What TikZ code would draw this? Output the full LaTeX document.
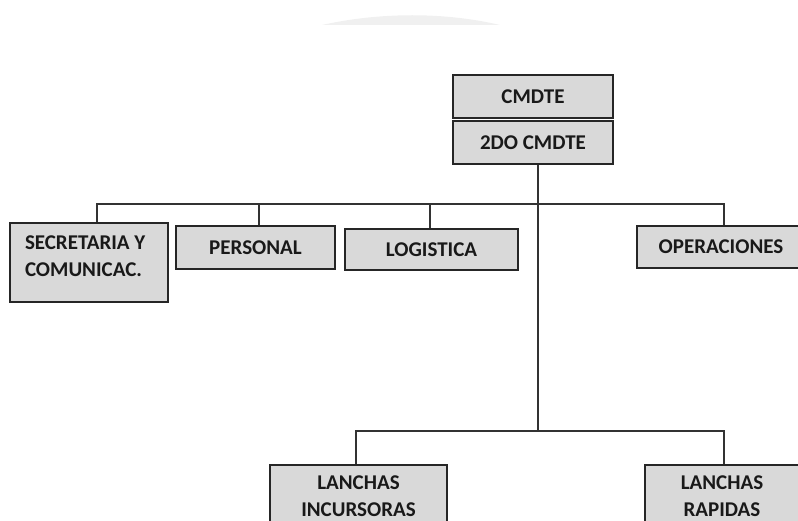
\documentclass[tikz,border=0pt]{standalone}
\usepackage{fontspec}
\setmainfont{Carlito}
\usepackage{xcolor}
\definecolor{cajagris}{HTML}{D9D9D9}
\definecolor{linea}{HTML}{333333}
\tikzset{
    caja/.style={draw=black!85, line width=1.8pt, fill=cajagris, inner sep=0pt,
        font=\bfseries\fontsize{21}{27}\selectfont, text=black!90, align=center},
    rama/.style={draw=linea, line width=1.6pt}
}
\begin{document}
\begin{tikzpicture}[x=1pt,y=-1pt]
        \useasboundingbox (0,0) rectangle (798,521);
        \fill[gray!12] (322,25) .. controls (380,12) and (445,12) .. (500,25) -- cycle;

        \node[caja, minimum width=160pt, minimum height=43pt] (cmdte) at (533,96.5) {CMDTE};
        \node[caja, minimum width=160pt, minimum height=43pt] (segundo) at (533,142.5) {2DO CMDTE};

        \node[caja, minimum width=158pt, minimum height=79pt, inner xsep=15pt, inner ysep=13pt] (secretaria) at (89,262.5)
            {\parbox[c][53pt][t]{128pt}{\raggedright SECRETARIA Y\\COMUNICAC.}};
        \node[caja, minimum width=159pt, minimum height=43pt] (personal) at (255.5,247.5) {PERSONAL};
        \node[caja, minimum width=173pt, minimum height=41pt] (logistica) at (431.5,249.5) {LOGISTICA};
        \node[caja, minimum width=168pt, minimum height=42pt] (operaciones) at (721,247) {OPERACIONES};

        \node[caja, anchor=north, minimum width=177pt, minimum height=62pt] (incursoras) at (358.5,464) {LANCHAS\\INCURSORAS};
        \node[caja, anchor=north, minimum width=154pt, minimum height=62pt] (rapidas) at (722,464) {LANCHAS\\RAPIDAS};

        \coordinate (eje) at (538,204);
        \coordinate (base) at (538,431);

        \draw[rama] (eje |- segundo.south) -- (eje) -- (base);
        \draw[rama] ([xshift=8pt]secretaria.north) |- (eje);
        \draw[rama] ([xshift=3.5pt]personal.north) -- ([xshift=3.5pt]personal.north |- eje);
        \draw[rama] ([xshift=-1.5pt]logistica.north) -- ([xshift=-1.5pt]logistica.north |- eje);
        \draw[rama] (eje) -| ([xshift=3pt]operaciones.north);
        \draw[rama] ([xshift=-2.5pt]incursoras.north) |- (base) -| ([xshift=2pt]rapidas.north);
    \end{tikzpicture}
\end{document}
